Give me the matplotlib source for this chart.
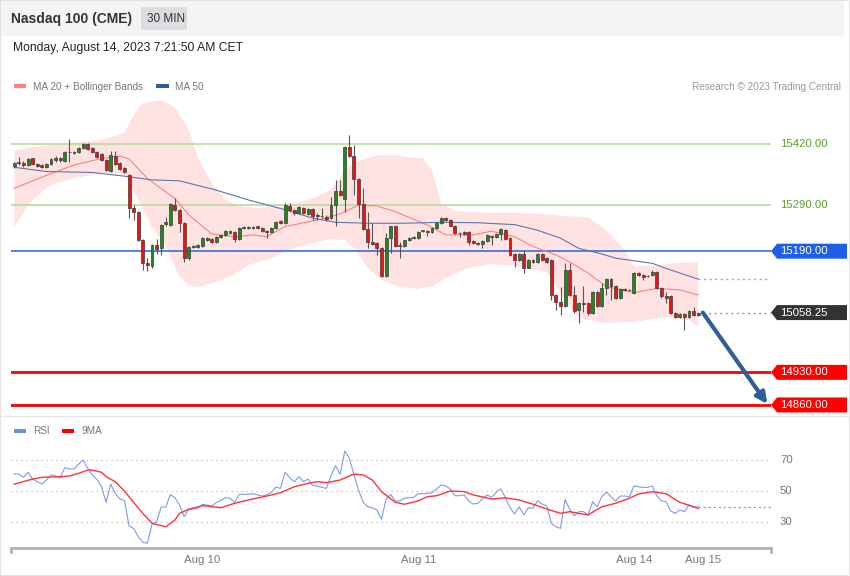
import numpy as np
import matplotlib
matplotlib.use("Agg")
import matplotlib.pyplot as plt
from matplotlib.patches import Polygon, Rectangle
from matplotlib.lines import Line2D
import matplotlib.transforms as mtransforms

plt.rcParams['font.family'] = ['Liberation Sans', 'DejaVu Sans']

# ---- candles (30 min bars, oldest first) ----
opens = [15373, 15379, 15380, 15375, 15389, 15377, 15375, 15370, 15377, 15389,
         15386, 15384, 15402, 15402, 15402, 15411, 15420, 15411, 15402, 15398,
         15386, 15363, 15395, 15379, 15368, 15353, 15282, 15275, 15215, 15164,
         15159, 15203, 15197, 15248, 15246, 15289, 15278, 15250, 15175, 15200,
         15199, 15202, 15219, 15216, 15209, 15220, 15225, 15228, 15231, 15216,
         15240, 15240, 15241, 15243, 15240, 15234, 15232, 15240, 15254, 15250,
         15287, 15278, 15271, 15283, 15270, 15281, 15266, 15266, 15264, 15261,
         15289, 15320, 15302, 15413, 15394, 15346, 15291, 15237, 15210, 15208,
         15197, 15137, 15218, 15243, 15202, 15201, 15213, 15218, 15218, 15233,
         15232, 15232, 15239, 15250, 15261, 15257, 15245, 15228, 15232, 15232,
         15212, 15208, 15205, 15212, 15223, 15220, 15227, 15235, 15218, 15184,
         15171, 15184, 15155, 15171, 15167, 15185, 15175, 15171, 15096, 15082,
         15072, 15150, 15096, 15064, 15078, 15078, 15058, 15103, 15072, 15112,
         15130, 15115, 15089, 15108, 15107, 15101, 15144, 15139, 15137, 15139,
         15146, 15110, 15094, 15094, 15058, 15049, 15056, 15049, 15062, 15053]
highs = [15382, 15393, 15383, 15390, 15391, 15380, 15377, 15379, 15391, 15395,
         15393, 15405, 15431, 15404, 15414, 15423, 15422, 15413, 15404, 15400,
         15388, 15405, 15405, 15381, 15371, 15356, 15290, 15277, 15217, 15175,
         15205, 15216, 15248, 15264, 15293, 15305, 15280, 15252, 15201, 15204,
         15205, 15221, 15221, 15218, 15223, 15227, 15235, 15235, 15233, 15242,
         15244, 15243, 15243, 15245, 15242, 15236, 15242, 15255, 15256, 15293,
         15293, 15280, 15286, 15285, 15283, 15283, 15272, 15283, 15267, 15306,
         15343, 15343, 15415, 15439, 15418, 15348, 15326, 15275, 15250, 15210,
         15199, 15229, 15245, 15245, 15210, 15215, 15220, 15222, 15234, 15236,
         15235, 15241, 15253, 15263, 15263, 15259, 15247, 15231, 15234, 15234,
         15214, 15210, 15214, 15226, 15225, 15229, 15239, 15237, 15220, 15186,
         15187, 15193, 15173, 15173, 15187, 15187, 15177, 15173, 15098, 15114,
         15164, 15164, 15115, 15080, 15115, 15080, 15105, 15105, 15122, 15132,
         15132, 15117, 15110, 15110, 15109, 15146, 15146, 15141, 15139, 15150,
         15148, 15114, 15103, 15096, 15060, 15058, 15058, 15064, 15071, 15060]
lows = [15369, 15376, 15371, 15373, 15375, 15370, 15368, 15368, 15376, 15382,
        15382, 15382, 15382, 15398, 15400, 15409, 15407, 15400, 15390, 15383,
        15362, 15361, 15375, 15364, 15358, 15262, 15257, 15212, 15150, 15147,
        15154, 15184, 15182, 15243, 15244, 15276, 15231, 15167, 15172, 15197,
        15197, 15200, 15212, 15208, 15207, 15218, 15223, 15226, 15210, 15214,
        15238, 15238, 15237, 15237, 15231, 15219, 15230, 15238, 15248, 15248,
        15276, 15268, 15269, 15269, 15268, 15258, 15257, 15261, 15255, 15259,
        15244, 15309, 15274, 15392, 15311, 15261, 15235, 15196, 15203, 15182,
        15135, 15135, 15187, 15199, 15175, 15199, 15211, 15216, 15216, 15231,
        15222, 15230, 15237, 15248, 15254, 15243, 15226, 15221, 15225, 15203,
        15205, 15203, 15196, 15210, 15203, 15218, 15214, 15214, 15180, 15157,
        15169, 15143, 15153, 15165, 15165, 15169, 15165, 15085, 15064, 15053,
        15070, 15094, 15057, 15036, 15060, 15053, 15056, 15070, 15070, 15096,
        15085, 15087, 15087, 15105, 15104, 15099, 15137, 15128, 15134, 15137,
        15108, 15089, 15078, 15056, 15047, 15047, 15021, 15047, 15051, 15051]
closes = [15380, 15381, 15374, 15388, 15377, 15373, 15371, 15377, 15388, 15386,
          15389, 15403, 15403, 15401, 15412, 15421, 15409, 15402, 15393, 15386,
          15364, 15396, 15377, 15366, 15361, 15282, 15275, 15215, 15164, 15161,
          15203, 15195, 15246, 15252, 15291, 15278, 15250, 15175, 15199, 15201,
          15203, 15219, 15214, 15210, 15221, 15225, 15233, 15233, 15216, 15240,
          15242, 15241, 15239, 15239, 15233, 15232, 15240, 15253, 15250, 15289,
          15278, 15271, 15284, 15271, 15281, 15266, 15267, 15265, 15259, 15289,
          15320, 15311, 15413, 15394, 15346, 15291, 15237, 15210, 15205, 15197,
          15137, 15218, 15243, 15201, 15203, 15213, 15218, 15220, 15232, 15234,
          15231, 15239, 15251, 15261, 15256, 15245, 15228, 15229, 15227, 15210,
          15207, 15205, 15212, 15224, 15220, 15227, 15237, 15216, 15182, 15171,
          15185, 15153, 15171, 15167, 15185, 15171, 15167, 15096, 15082, 15072,
          15150, 15096, 15062, 15078, 15077, 15058, 15103, 15072, 15112, 15130,
          15115, 15089, 15108, 15107, 15106, 15144, 15139, 15135, 15136, 15146,
          15110, 15094, 15089, 15058, 15049, 15056, 15049, 15062, 15053, 15058.25]

# moving averages / bollinger bands (bar index, price)
ma50_idx = [0, 7, 17, 24, 30, 36, 44, 51, 59, 65, 70, 77, 85, 93, 101, 109, 114,
            119, 123, 128, 131, 139, 142, 149]
ma50 = [15370, 15361, 15359, 15351, 15343, 15341, 15321, 15300, 15279, 15261,
        15252, 15250, 15250, 15252, 15251, 15247, 15235, 15218, 15196, 15184,
        15175, 15164, 15153, 15130]
ma20_idx = [0, 6, 13, 19, 23, 25, 29, 35, 38, 43, 48, 52, 55, 59, 67, 71, 75, 79,
            83, 90, 94, 100, 104, 109, 113, 118, 121, 125, 129, 135, 140, 145, 149]
ma20 = [15325, 15349, 15375, 15389, 15394, 15388, 15346, 15303, 15268, 15227,
        15221, 15225, 15221, 15243, 15259, 15270, 15289, 15287, 15275, 15246,
        15225, 15225, 15233, 15221, 15200, 15182, 15167, 15143, 15114, 15101,
        15110, 15107, 15096]
up_idx = [0, 4, 11, 19, 24, 26, 28, 32, 35, 38, 40, 43, 46, 49, 53, 59, 64, 69,
          72, 74, 79, 83, 86, 89, 91, 93, 96, 100, 106, 110, 116, 120, 125, 129,
          133, 135, 140, 145, 149]
upper = [15407, 15414, 15421, 15429, 15444, 15482, 15508, 15514, 15499, 15450,
         15392, 15336, 15300, 15287, 15283, 15287, 15300, 15321, 15364, 15381,
         15396, 15396, 15392, 15390, 15364, 15293, 15276, 15274, 15272, 15272,
         15270, 15265, 15263, 15235, 15193, 15158, 15160, 15165, 15167]
lo_idx = [0, 3, 6, 8, 13, 20, 24, 27, 30, 33, 36, 38, 40, 44, 47, 51, 56, 60, 64,
          69, 72, 74, 77, 80, 84, 88, 91, 95, 99, 104, 110, 116, 118, 120, 123,
          128, 135, 142, 147, 149]
lower = [15242, 15289, 15317, 15332, 15347, 15358, 15356, 15300, 15242, 15199,
         15135, 15117, 15113, 15124, 15135, 15160, 15175, 15193, 15205, 15216,
         15214, 15197, 15154, 15128, 15113, 15109, 15115, 15137, 15154, 15162,
         15158, 15145, 15117, 15085, 15047, 15036, 15038, 15049, 15042, 15027]

# RSI and its 9 period MA
rsi = [60.8, 60.8, 58.7, 61.9, 57.6, 56.0, 54.4, 57.0, 60.2, 59.7,
       58.4, 64.8, 64.0, 64.0, 67.0, 69.7, 64.4, 60.2, 57.4, 52.7,
       42.8, 54.3, 48.5, 44.9, 44.1, 27.8, 26.3, 21.0, 17.4, 16.8,
       28.9, 30.5, 39.8, 39.8, 47.9, 45.7, 41.1, 33.7, 38.4, 38.4,
       39.0, 41.6, 41.1, 40.5, 42.6, 44.1, 45.7, 45.4, 42.8, 47.9,
       47.9, 47.9, 48.3, 47.5, 46.8, 47.5, 49.2, 52.5, 51.7, 61.9,
       58.4, 55.9, 59.1, 55.9, 57.6, 53.4, 53.2, 52.3, 51.7, 59.7,
       66.1, 60.6, 75.4, 70.8, 60.2, 50.6, 42.8, 40.0, 39.4, 37.9,
       32.0, 44.9, 47.9, 43.7, 43.7, 45.4, 45.7, 46.0, 48.3, 48.3,
       48.5, 48.9, 51.3, 53.8, 53.2, 51.3, 47.0, 47.0, 47.5, 43.7,
       41.7, 42.2, 45.0, 47.5, 46.0, 49.2, 51.3, 45.7, 39.4, 35.4,
       40.0, 34.8, 39.4, 39.0, 43.8, 41.6, 40.7, 29.5, 27.3, 26.3,
       44.7, 38.4, 34.3, 36.9, 36.9, 34.8, 43.2, 40.0, 46.4, 49.2,
       46.4, 43.7, 46.8, 46.8, 46.4, 53.2, 52.7, 52.3, 52.3, 53.2,
       46.8, 43.7, 43.2, 37.3, 35.8, 37.9, 36.9, 41.1, 39.4, 40.0]
ma9_idx = [0, 4, 6, 10, 12, 14, 16, 17, 19, 20, 22, 24, 26, 28, 30, 33, 35, 36,
           38, 41, 45, 48, 51, 55, 58, 61, 64, 66, 68, 71, 74, 76, 78, 80, 83, 85,
           88, 90, 92, 95, 98, 100, 104, 107, 110, 113, 116, 119, 121, 123, 125,
           128, 131, 134, 136, 139, 142, 145, 148, 149]
ma9 = [54.4, 57.6, 58.7, 59.1, 59.5, 61.2, 63.3, 63.3, 61.9, 59.1,
       55.9, 50.0, 42.8, 35.8, 29.5, 27.3, 31.6, 35.8, 38.4, 40.7,
       39.4, 42.2, 44.3, 46.8, 48.9, 52.7, 54.9, 55.9, 55.3, 57.0,
       60.8, 60.2, 57.0, 49.6, 42.8, 41.6, 43.7, 46.4, 47.0, 50.0,
       49.6, 47.5, 44.9, 45.7, 44.3, 41.6, 38.6, 35.8, 36.9, 35.8,
       34.8, 40.0, 42.2, 45.4, 48.1, 49.6, 48.3, 42.8, 40.0, 38.9]

# key levels
resist_levels = [15420.00, 15290.00]
pivot_level = 15190.00
support_levels = [14930.00, 14860.00]
rsi_levels = [70, 50, 30]
date_ticks = [41, 88, 135, 150]
date_labels = ['Aug 10', 'Aug 11', 'Aug 14', 'Aug 15']

W, H = 850, 576
fig = plt.figure(figsize=(W / 100, H / 100), dpi=100)


def fpx(x, y):
    return x / W, 1 - y / H


# frame, header
fig.patches.append(Rectangle((0, 0), 1, 1, transform=fig.transFigure, fill=False,
                             ec='#e2e2e2', lw=1.5))
fig.patches.append(Rectangle(fpx(1, 36), 843 / W, 35 / H, transform=fig.transFigure,
                             fc='#f4f4f4', ec='none'))
fig.patches.append(Rectangle(fpx(141, 30), 46 / W, 23 / H, transform=fig.transFigure,
                             fc='#dcdde1', ec='none'))
fig.text(*fpx(11, 19), 'Nasdaq 100 (CME)', fontsize=10, fontweight='bold',
         color='#333333', va='center')
fig.text(*fpx(166, 19), '30 MIN', fontsize=8.5, color='#333333', va='center', ha='center')
fig.text(*fpx(13, 48), 'Monday, August 14, 2023 7:21:50 AM CET', fontsize=8.7,
         color='#222222', va='center')

# legend rows
fig.patches.append(Rectangle(fpx(14, 88), 12 / W, 4 / H, transform=fig.transFigure,
                             fc='#ff8080', ec='none'))
fig.text(*fpx(33, 86.5), 'MA 20 + Bollinger Bands', fontsize=7.2, color='#777777', va='center')
fig.patches.append(Rectangle(fpx(156, 88), 13 / W, 4 / H, transform=fig.transFigure,
                             fc='#2f5f9a', ec='none'))
fig.text(*fpx(175, 86.5), 'MA 50', fontsize=7.2, color='#777777', va='center')
fig.text(*fpx(841, 86.5), 'Research \u00a9 2023 Trading Central', fontsize=7.2,
         color='#999999', va='center', ha='right')

fig.add_artist(Line2D([0, 1], [1 - 416 / H] * 2, transform=fig.transFigure,
                      color='#e6e6e6', lw=1))

fig.patches.append(Rectangle(fpx(14, 433), 12 / W, 4 / H, transform=fig.transFigure,
                             fc='#6b8ee8', ec='none'))
fig.text(*fpx(33, 431.5), 'RSI', fontsize=7.2, color='#777777', va='center')
fig.patches.append(Rectangle(fpx(62, 433), 12 / W, 4 / H, transform=fig.transFigure,
                             fc='#ff0000', ec='none'))
fig.text(*fpx(82, 431.5), '9MA', fontsize=7.2, color='#777777', va='center')

xlim = ((11 - 14.3) / 4.59, (771 - 14.3) / 4.59)

# ---- price panel ----
ax = fig.add_axes([11 / W, 1 - 412 / H, 760 / W, 317 / H])
ax.set_xlim(*xlim)
ax.set_ylim(14844.9, 15525.2)
ax.axis('off')

band_x = np.r_[up_idx, lo_idx[::-1]]
band_y = np.r_[upper, lower[::-1]]
ax.fill(band_x, band_y, color='#ffe3e3', lw=0, zorder=1)
ax.plot(ma20_idx, ma20, color='#ff7f7f', lw=0.8, zorder=2)
ax.plot(ma50_idx, ma50, color='#5a78aa', lw=0.8, zorder=2)

for lv in resist_levels:
    ax.axhline(lv, color='#b6dc9c', lw=1.2, zorder=1.5)
ax.axhline(pivot_level, color='#3a6fd8', lw=1.2, zorder=1.5)
for lv in support_levels:
    ax.axhline(lv, color='#ff0000', lw=2, zorder=1.5)

idx = np.arange(len(closes))
o = np.array(opens, float)
c = np.array(closes, float)
up = c >= o
ax.vlines(idx, lows, highs, color='#555555', lw=0.8, zorder=3)
body_h = np.maximum(np.abs(c - o), 1.5)
ax.bar(idx, body_h, bottom=np.minimum(o, c), width=0.64,
       color=np.where(up, '#1e8a1e', '#ee1111'), edgecolor='#3a3a3a', lw=0.5, zorder=4)

# extensions past the last bar
last = len(closes) - 1
ax.plot([last, xlim[1]], [ma50[-1]] * 2, color='#8ea6d2', lw=1, ls=(0, (1.5, 2.5)), zorder=2)
ax.plot([last + 1, xlim[1]], [closes[-1]] * 2, color='#999999', lw=1, ls=(0, (1.5, 2.5)), zorder=2)

# projection arrow
ax.annotate('', xy=(xlim[1] - 0.8, support_levels[-1] + 2), xytext=(last + 1, closes[-1]),
            arrowprops=dict(arrowstyle='-|>', color='#2f5f9a', lw=3, mutation_scale=16,
                            shrinkA=0, shrinkB=0), zorder=5)

# right side tags
tr = mtransforms.blended_transform_factory(ax.transAxes, ax.transData)
x0, x1, x2 = 1.0, 1.0 + 6 / 760, 1.0 + 76 / 760
hh = 7.5 * 2.146


def tag(level, fc, text_color='white'):
    if fc is not None:
        poly = Polygon([(x0, level), (x1, level + hh), (x2, level + hh),
                        (x2, level - hh), (x1, level - hh)], closed=True,
                       transform=tr, fc=fc, ec='none', clip_on=False, zorder=6)
        ax.add_patch(poly)
    ax.text(1.0 + 9 / 760, level, f'{level:.2f}', transform=tr, color=text_color,
            fontsize=8.2, va='center', ha='left', clip_on=False, zorder=7)


for lv in resist_levels:
    tag(lv, None, '#5e9e2c')
tag(pivot_level, '#1f5fe8')
tag(closes[-1], '#333333')
for lv in support_levels:
    tag(lv, '#ff0000')

# ---- RSI panel ----
ax2 = fig.add_axes([11 / W, 1 - 548 / H, 760 / W, 108 / H])
ax2.set_xlim(*xlim)
ax2.set_ylim(13.8, 82.4)
for s in ['top', 'left', 'right']:
    ax2.spines[s].set_visible(False)
ax2.spines['bottom'].set_color('#b3b3b3')
ax2.spines['bottom'].set_linewidth(2)
ax2.set_yticks([])
ax2.set_xticks(date_ticks)
ax2.set_xticklabels(date_labels, fontsize=8.2, color='#777777')
ax2.tick_params(axis='x', length=0, pad=5)
for lv in rsi_levels:
    ax2.axhline(lv, color='#bbbbbb', lw=0.9, ls=(0, (1, 3)))
    ax2.text(1.0 + 9 / 760, lv, str(lv), transform=mtransforms.blended_transform_factory(
        ax2.transAxes, ax2.transData), fontsize=8.2, color='#777777', va='center',
        clip_on=False)
ax2.plot(idx, rsi, color='#7f9be9', lw=0.8)
ax2.plot(ma9_idx, ma9, color='#ff3333', lw=1)
ax2.plot([last, xlim[1]], [rsi[-1]] * 2, color='#8ca6ee', lw=0.9, ls=(0, (2, 2)))
for xe in (0, 1):
    ax2.add_artist(Line2D([xe, xe], [0, -0.035], transform=ax2.transAxes, color='#b3b3b3',
                          lw=2, clip_on=False))

fig.savefig('out.png', dpi=100)
